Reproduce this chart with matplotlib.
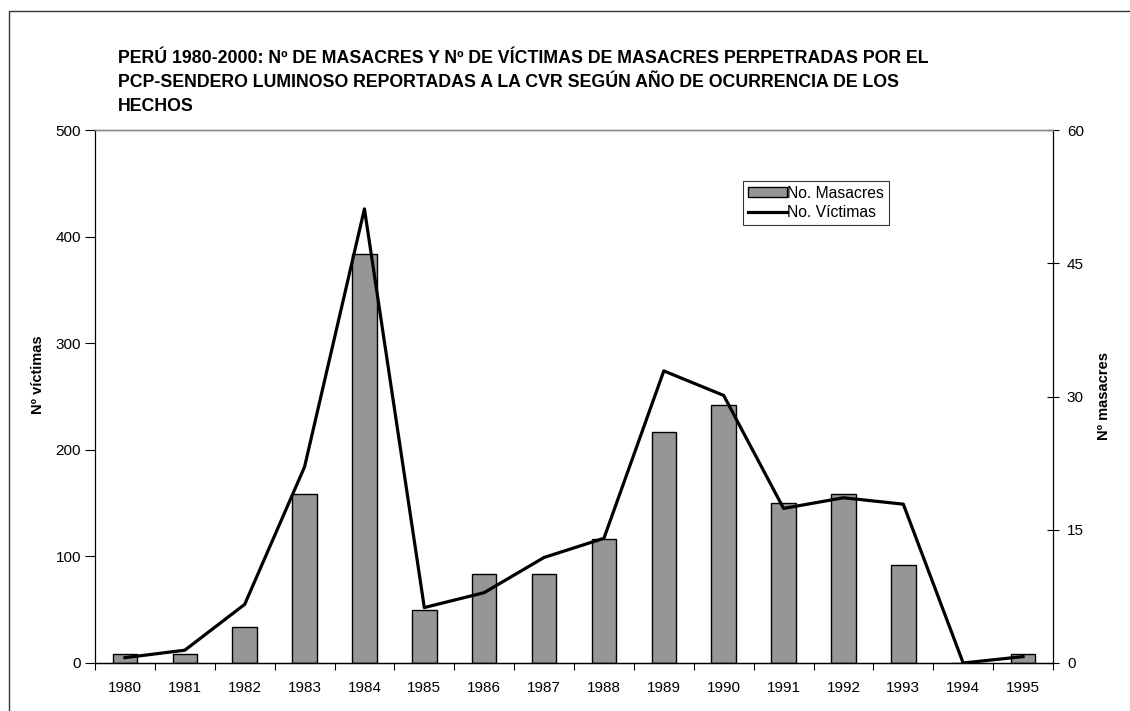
import matplotlib
matplotlib.use("Agg")
import matplotlib.pyplot as plt
from matplotlib.patches import Rectangle
import numpy as np

plt.rcParams['font.family'] = ['Liberation Sans', 'DejaVu Sans']

years = ['1980', '1981', '1982', '1983', '1984', '1985', '1986', '1987',
         '1988', '1989', '1990', '1991', '1992', '1993', '1994', '1995']
masacres = [1, 1, 4, 19, 46, 6, 10, 10, 14, 26, 29, 18, 19, 11, 0, 1]
victimas = [5, 12, 55, 184, 426, 52, 66, 99, 117, 274, 251, 145, 155, 149, 0, 6]

title = ("PERÚ 1980-2000: Nº DE MASACRES Y Nº DE VÍCTIMAS DE MASACRES PERPETRADAS POR EL\n"
         "PCP-SENDERO LUMINOSO REPORTADAS A LA CVR SEGÚN AÑO DE OCURRENCIA DE LOS\n"
         "HECHOS")

W, H = 1130, 711
fig = plt.figure(figsize=(W / 100, H / 100), dpi=100)

# outer frame
fig.patches.append(Rectangle((9 / W, -0.1), 1.2, (1 - 11 / H) + 0.1,
                             transform=fig.transFigure, fill=False,
                             edgecolor='#333333', linewidth=1.0))

ax1 = fig.add_axes([95 / W, (H - 663) / H, (1053 - 95) / W, (663 - 130) / H])
ax2 = ax1.twinx()

x = np.arange(len(years))
bars = ax2.bar(x, masacres, width=0.41, color='#969696', edgecolor='black',
               linewidth=1.0, label='No. Masacres', zorder=2)
line, = ax1.plot(x, victimas, color='black', linewidth=2.3,
                 label='No. Víctimas', zorder=3)

ax1.set_zorder(ax2.get_zorder() + 1)
ax1.patch.set_visible(False)

ax1.set_xlim(-0.5, len(years) - 0.5)
ax1.set_ylim(0, 500)
ax2.set_ylim(0, 60)
ax1.set_yticks([0, 100, 200, 300, 400, 500])
ax2.set_yticks([0, 15, 30, 45, 60])

ax1.set_xticks(x)
ax1.set_xticklabels(years)
ax1.set_xticks(np.arange(-0.5, len(years), 1.0), minor=True)
ax1.tick_params(axis='x', which='major', length=0, labelsize=11, pad=13)
ax1.tick_params(axis='x', which='minor', length=5, width=0.8, direction='out')
ax1.tick_params(axis='y', length=7, width=0.8, direction='out', labelsize=11, pad=3)
ax2.tick_params(axis='y', length=8, width=0.8, direction='inout', labelsize=11, pad=6)

for a in (ax1, ax2):
    a.spines['top'].set_color('#888888')
    a.spines['top'].set_linewidth(1.0)
    a.spines['left'].set_linewidth(0.9)
    a.spines['right'].set_linewidth(0.9)
    a.spines['bottom'].set_linewidth(0.9)
ax2.spines['left'].set_visible(False)
ax1.spines['right'].set_visible(False)

ax1.set_ylabel('Nº víctimas', fontsize=10.5, fontweight='bold')
ax1.yaxis.set_label_coords(-0.052, 0.54)
ax2.set_ylabel('Nº masacres', fontsize=10.5, fontweight='bold')
ax2.yaxis.set_label_coords(1.046, 0.5)

fig.text(118 / W, 1 - 50 / H, title, ha='left', va='top', fontsize=12.8,
         fontweight='bold', linespacing=1.55)

leg = ax1.legend([bars, line], ['No. Masacres', 'No. Víctimas'],
                 loc='upper left', bbox_to_anchor=((743 - 95) / 958, (663 - 181) / 533),
                 frameon=True, fancybox=False, shadow=False, fontsize=11.3,
                 borderpad=0.3, labelspacing=0.3, handlelength=2.5,
                 handleheight=0.6, handletextpad=0.0, borderaxespad=0.0)
leg.get_frame().set_edgecolor('black')
leg.get_frame().set_linewidth(0.8)

fig.savefig('out.png', dpi=100)
